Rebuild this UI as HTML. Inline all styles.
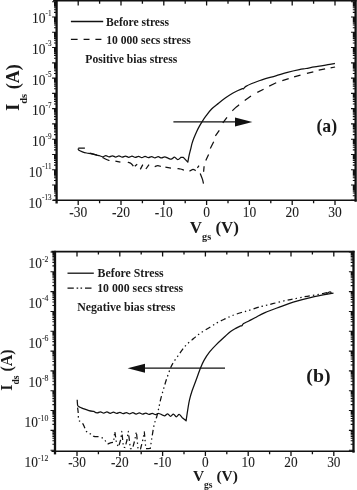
<!DOCTYPE html>
<html><head><meta charset="utf-8"><style>
html,body{margin:0;padding:0;background:#fff;width:357px;height:490px;overflow:hidden}
svg{display:block;filter:grayscale(1)}
text{font-family:"Liberation Serif",serif;fill:#1a1a1a}
.b{font-weight:bold}
.t{stroke:#333;stroke-width:0.1px}
</style></head><body>
<svg width="357" height="490" viewBox="0 0 357 490">
<rect width="357" height="490" fill="#fff"/>
<line x1="56.6" y1="0" x2="56.6" y2="203.5" stroke="#111" stroke-width="2.3"/>
<line x1="355.6" y1="0" x2="355.6" y2="201.8" stroke="#111" stroke-width="2.3"/>
<line x1="53.1" y1="0.8" x2="356.6" y2="0.8" stroke="#111" stroke-width="1.6"/>
<line x1="53.1" y1="200.3" x2="356.6" y2="200.3" stroke="#111" stroke-width="1.6"/>
<path d="M78.2,200.3 V205.1 M78.2,0.8 V5.6 M99.6,200.3 V203.3 M99.6,0.8 V3.8 M121,200.3 V205.1 M121,0.8 V5.6 M142.4,200.3 V203.3 M142.4,0.8 V3.8 M163.8,200.3 V205.1 M163.8,0.8 V5.6 M185.2,200.3 V203.3 M185.2,0.8 V3.8 M206.6,200.3 V205.1 M206.6,0.8 V5.6 M228,200.3 V203.3 M228,0.8 V3.8 M249.4,200.3 V205.1 M249.4,0.8 V5.6 M270.8,200.3 V203.3 M270.8,0.8 V3.8 M292.2,200.3 V205.1 M292.2,0.8 V5.6 M313.6,200.3 V203.3 M313.6,0.8 V3.8 M335,200.3 V205.1 M335,0.8 V5.6" stroke="#111" stroke-width="1.3" fill="none"/>
<path d="M52.1,200.3 H56.6 M355.6,200.3 H351 M54,195.7 H56.6 M355.6,195.7 H352.8 M54,193.01 H56.6 M355.6,193.01 H352.8 M54,191.1 H56.6 M355.6,191.1 H352.8 M54,189.62 H56.6 M355.6,189.62 H352.8 M54,188.41 H56.6 M355.6,188.41 H352.8 M54,187.39 H56.6 M355.6,187.39 H352.8 M54,186.51 H56.6 M355.6,186.51 H352.8 M54,185.72 H56.6 M355.6,185.72 H352.8 M52.1,185.03 H56.6 M355.6,185.03 H351 M54,180.43 H56.6 M355.6,180.43 H352.8 M54,177.74 H56.6 M355.6,177.74 H352.8 M54,175.83 H56.6 M355.6,175.83 H352.8 M54,174.35 H56.6 M355.6,174.35 H352.8 M54,173.14 H56.6 M355.6,173.14 H352.8 M54,172.12 H56.6 M355.6,172.12 H352.8 M54,171.23 H56.6 M355.6,171.23 H352.8 M54,170.45 H56.6 M355.6,170.45 H352.8 M52.1,169.75 H56.6 M355.6,169.75 H351 M54,165.15 H56.6 M355.6,165.15 H352.8 M54,162.46 H56.6 M355.6,162.46 H352.8 M54,160.55 H56.6 M355.6,160.55 H352.8 M54,159.07 H56.6 M355.6,159.07 H352.8 M54,157.86 H56.6 M355.6,157.86 H352.8 M54,156.84 H56.6 M355.6,156.84 H352.8 M54,155.96 H56.6 M355.6,155.96 H352.8 M54,155.17 H56.6 M355.6,155.17 H352.8 M52.1,154.47 H56.6 M355.6,154.47 H351 M54,149.88 H56.6 M355.6,149.88 H352.8 M54,147.19 H56.6 M355.6,147.19 H352.8 M54,145.28 H56.6 M355.6,145.28 H352.8 M54,143.8 H56.6 M355.6,143.8 H352.8 M54,142.59 H56.6 M355.6,142.59 H352.8 M54,141.57 H56.6 M355.6,141.57 H352.8 M54,140.68 H56.6 M355.6,140.68 H352.8 M54,139.9 H56.6 M355.6,139.9 H352.8 M52.1,139.2 H56.6 M355.6,139.2 H351 M54,134.6 H56.6 M355.6,134.6 H352.8 M54,131.91 H56.6 M355.6,131.91 H352.8 M54,130 H56.6 M355.6,130 H352.8 M54,128.52 H56.6 M355.6,128.52 H352.8 M54,127.31 H56.6 M355.6,127.31 H352.8 M54,126.29 H56.6 M355.6,126.29 H352.8 M54,125.41 H56.6 M355.6,125.41 H352.8 M54,124.62 H56.6 M355.6,124.62 H352.8 M52.1,123.92 H56.6 M355.6,123.92 H351 M54,119.33 H56.6 M355.6,119.33 H352.8 M54,116.64 H56.6 M355.6,116.64 H352.8 M54,114.73 H56.6 M355.6,114.73 H352.8 M54,113.25 H56.6 M355.6,113.25 H352.8 M54,112.04 H56.6 M355.6,112.04 H352.8 M54,111.02 H56.6 M355.6,111.02 H352.8 M54,110.13 H56.6 M355.6,110.13 H352.8 M54,109.35 H56.6 M355.6,109.35 H352.8 M52.1,108.65 H56.6 M355.6,108.65 H351 M54,104.05 H56.6 M355.6,104.05 H352.8 M54,101.36 H56.6 M355.6,101.36 H352.8 M54,99.45 H56.6 M355.6,99.45 H352.8 M54,97.97 H56.6 M355.6,97.97 H352.8 M54,96.76 H56.6 M355.6,96.76 H352.8 M54,95.74 H56.6 M355.6,95.74 H352.8 M54,94.86 H56.6 M355.6,94.86 H352.8 M54,94.07 H56.6 M355.6,94.07 H352.8 M52.1,93.38 H56.6 M355.6,93.38 H351 M54,88.78 H56.6 M355.6,88.78 H352.8 M54,86.09 H56.6 M355.6,86.09 H352.8 M54,84.18 H56.6 M355.6,84.18 H352.8 M54,82.7 H56.6 M355.6,82.7 H352.8 M54,81.49 H56.6 M355.6,81.49 H352.8 M54,80.47 H56.6 M355.6,80.47 H352.8 M54,79.58 H56.6 M355.6,79.58 H352.8 M54,78.8 H56.6 M355.6,78.8 H352.8 M52.1,78.1 H56.6 M355.6,78.1 H351 M54,73.5 H56.6 M355.6,73.5 H352.8 M54,70.81 H56.6 M355.6,70.81 H352.8 M54,68.9 H56.6 M355.6,68.9 H352.8 M54,67.42 H56.6 M355.6,67.42 H352.8 M54,66.21 H56.6 M355.6,66.21 H352.8 M54,65.19 H56.6 M355.6,65.19 H352.8 M54,64.31 H56.6 M355.6,64.31 H352.8 M54,63.52 H56.6 M355.6,63.52 H352.8 M52.1,62.83 H56.6 M355.6,62.83 H351 M54,58.23 H56.6 M355.6,58.23 H352.8 M54,55.54 H56.6 M355.6,55.54 H352.8 M54,53.63 H56.6 M355.6,53.63 H352.8 M54,52.15 H56.6 M355.6,52.15 H352.8 M54,50.94 H56.6 M355.6,50.94 H352.8 M54,49.92 H56.6 M355.6,49.92 H352.8 M54,49.03 H56.6 M355.6,49.03 H352.8 M54,48.25 H56.6 M355.6,48.25 H352.8 M52.1,47.55 H56.6 M355.6,47.55 H351 M54,42.95 H56.6 M355.6,42.95 H352.8 M54,40.26 H56.6 M355.6,40.26 H352.8 M54,38.35 H56.6 M355.6,38.35 H352.8 M54,36.87 H56.6 M355.6,36.87 H352.8 M54,35.66 H56.6 M355.6,35.66 H352.8 M54,34.64 H56.6 M355.6,34.64 H352.8 M54,33.76 H56.6 M355.6,33.76 H352.8 M54,32.97 H56.6 M355.6,32.97 H352.8 M52.1,32.27 H56.6 M355.6,32.27 H351 M54,27.68 H56.6 M355.6,27.68 H352.8 M54,24.99 H56.6 M355.6,24.99 H352.8 M54,23.08 H56.6 M355.6,23.08 H352.8 M54,21.6 H56.6 M355.6,21.6 H352.8 M54,20.39 H56.6 M355.6,20.39 H352.8 M54,19.37 H56.6 M355.6,19.37 H352.8 M54,18.48 H56.6 M355.6,18.48 H352.8 M54,17.7 H56.6 M355.6,17.7 H352.8 M52.1,17 H56.6 M355.6,17 H351 M54,12.4 H56.6 M355.6,12.4 H352.8 M54,9.71 H56.6 M355.6,9.71 H352.8 M54,7.8 H56.6 M355.6,7.8 H352.8 M54,6.32 H56.6 M355.6,6.32 H352.8 M54,5.11 H56.6 M355.6,5.11 H352.8 M54,4.09 H56.6 M355.6,4.09 H352.8 M54,3.21 H56.6 M355.6,3.21 H352.8 M54,2.42 H56.6 M355.6,2.42 H352.8 M52.1,1.72 H56.6 M355.6,1.72 H351" stroke="#111" stroke-width="1.1" fill="none"/>
<line x1="55" y1="250.8" x2="55" y2="454.4" stroke="#111" stroke-width="2.3"/>
<line x1="353.5" y1="250.8" x2="353.5" y2="452.7" stroke="#111" stroke-width="2.3"/>
<line x1="51.5" y1="251.6" x2="354.5" y2="251.6" stroke="#111" stroke-width="1.6"/>
<line x1="51.5" y1="451.2" x2="354.5" y2="451.2" stroke="#111" stroke-width="1.6"/>
<path d="M77,451.2 V456 M77,251.6 V256.4 M98.4,451.2 V454.2 M98.4,251.6 V254.6 M119.8,451.2 V456 M119.8,251.6 V256.4 M141.2,451.2 V454.2 M141.2,251.6 V254.6 M162.6,451.2 V456 M162.6,251.6 V256.4 M184,451.2 V454.2 M184,251.6 V254.6 M205.4,451.2 V456 M205.4,251.6 V256.4 M226.8,451.2 V454.2 M226.8,251.6 V254.6 M248.2,451.2 V456 M248.2,251.6 V256.4 M269.6,451.2 V454.2 M269.6,251.6 V254.6 M291,451.2 V456 M291,251.6 V256.4 M312.4,451.2 V454.2 M312.4,251.6 V254.6 M333.8,451.2 V456 M333.8,251.6 V256.4" stroke="#111" stroke-width="1.3" fill="none"/>
<path d="M50.5,450.2 H55 M353.5,450.2 H348.9 M52.4,444.23 H55 M353.5,444.23 H350.7 M52.4,440.74 H55 M353.5,440.74 H350.7 M52.4,438.27 H55 M353.5,438.27 H350.7 M52.4,436.35 H55 M353.5,436.35 H350.7 M52.4,434.78 H55 M353.5,434.78 H350.7 M52.4,433.45 H55 M353.5,433.45 H350.7 M52.4,432.3 H55 M353.5,432.3 H350.7 M52.4,431.29 H55 M353.5,431.29 H350.7 M50.5,430.38 H55 M353.5,430.38 H348.9 M52.4,424.41 H55 M353.5,424.41 H350.7 M52.4,420.92 H55 M353.5,420.92 H350.7 M52.4,418.45 H55 M353.5,418.45 H350.7 M52.4,416.53 H55 M353.5,416.53 H350.7 M52.4,414.96 H55 M353.5,414.96 H350.7 M52.4,413.63 H55 M353.5,413.63 H350.7 M52.4,412.48 H55 M353.5,412.48 H350.7 M52.4,411.47 H55 M353.5,411.47 H350.7 M50.5,410.56 H55 M353.5,410.56 H348.9 M52.4,404.59 H55 M353.5,404.59 H350.7 M52.4,401.1 H55 M353.5,401.1 H350.7 M52.4,398.63 H55 M353.5,398.63 H350.7 M52.4,396.71 H55 M353.5,396.71 H350.7 M52.4,395.14 H55 M353.5,395.14 H350.7 M52.4,393.81 H55 M353.5,393.81 H350.7 M52.4,392.66 H55 M353.5,392.66 H350.7 M52.4,391.65 H55 M353.5,391.65 H350.7 M50.5,390.74 H55 M353.5,390.74 H348.9 M52.4,384.77 H55 M353.5,384.77 H350.7 M52.4,381.28 H55 M353.5,381.28 H350.7 M52.4,378.81 H55 M353.5,378.81 H350.7 M52.4,376.89 H55 M353.5,376.89 H350.7 M52.4,375.32 H55 M353.5,375.32 H350.7 M52.4,373.99 H55 M353.5,373.99 H350.7 M52.4,372.84 H55 M353.5,372.84 H350.7 M52.4,371.83 H55 M353.5,371.83 H350.7 M50.5,370.92 H55 M353.5,370.92 H348.9 M52.4,364.95 H55 M353.5,364.95 H350.7 M52.4,361.46 H55 M353.5,361.46 H350.7 M52.4,358.99 H55 M353.5,358.99 H350.7 M52.4,357.07 H55 M353.5,357.07 H350.7 M52.4,355.5 H55 M353.5,355.5 H350.7 M52.4,354.17 H55 M353.5,354.17 H350.7 M52.4,353.02 H55 M353.5,353.02 H350.7 M52.4,352.01 H55 M353.5,352.01 H350.7 M50.5,351.1 H55 M353.5,351.1 H348.9 M52.4,345.13 H55 M353.5,345.13 H350.7 M52.4,341.64 H55 M353.5,341.64 H350.7 M52.4,339.17 H55 M353.5,339.17 H350.7 M52.4,337.25 H55 M353.5,337.25 H350.7 M52.4,335.68 H55 M353.5,335.68 H350.7 M52.4,334.35 H55 M353.5,334.35 H350.7 M52.4,333.2 H55 M353.5,333.2 H350.7 M52.4,332.19 H55 M353.5,332.19 H350.7 M50.5,331.28 H55 M353.5,331.28 H348.9 M52.4,325.31 H55 M353.5,325.31 H350.7 M52.4,321.82 H55 M353.5,321.82 H350.7 M52.4,319.35 H55 M353.5,319.35 H350.7 M52.4,317.43 H55 M353.5,317.43 H350.7 M52.4,315.86 H55 M353.5,315.86 H350.7 M52.4,314.53 H55 M353.5,314.53 H350.7 M52.4,313.38 H55 M353.5,313.38 H350.7 M52.4,312.37 H55 M353.5,312.37 H350.7 M50.5,311.46 H55 M353.5,311.46 H348.9 M52.4,305.49 H55 M353.5,305.49 H350.7 M52.4,302 H55 M353.5,302 H350.7 M52.4,299.53 H55 M353.5,299.53 H350.7 M52.4,297.61 H55 M353.5,297.61 H350.7 M52.4,296.04 H55 M353.5,296.04 H350.7 M52.4,294.71 H55 M353.5,294.71 H350.7 M52.4,293.56 H55 M353.5,293.56 H350.7 M52.4,292.55 H55 M353.5,292.55 H350.7 M50.5,291.64 H55 M353.5,291.64 H348.9 M52.4,285.67 H55 M353.5,285.67 H350.7 M52.4,282.18 H55 M353.5,282.18 H350.7 M52.4,279.71 H55 M353.5,279.71 H350.7 M52.4,277.79 H55 M353.5,277.79 H350.7 M52.4,276.22 H55 M353.5,276.22 H350.7 M52.4,274.89 H55 M353.5,274.89 H350.7 M52.4,273.74 H55 M353.5,273.74 H350.7 M52.4,272.73 H55 M353.5,272.73 H350.7 M50.5,271.82 H55 M353.5,271.82 H348.9 M52.4,265.85 H55 M353.5,265.85 H350.7 M52.4,262.36 H55 M353.5,262.36 H350.7 M52.4,259.89 H55 M353.5,259.89 H350.7 M52.4,257.97 H55 M353.5,257.97 H350.7 M52.4,256.4 H55 M353.5,256.4 H350.7 M52.4,255.07 H55 M353.5,255.07 H350.7 M52.4,253.92 H55 M353.5,253.92 H350.7 M52.4,252.91 H55 M353.5,252.91 H350.7 M50.5,252 H55 M353.5,252 H348.9" stroke="#111" stroke-width="1.1" fill="none"/>
<text class="t" transform="translate(51.6,23) scale(1,1.12)" font-size="13.5" text-anchor="end">10<tspan dy="-6.52" font-size="7.2">-1</tspan></text>
<text class="t" transform="translate(51.6,53.75) scale(1,1.12)" font-size="13.5" text-anchor="end">10<tspan dy="-6.52" font-size="7.2">-3</tspan></text>
<text class="t" transform="translate(51.6,84.5) scale(1,1.12)" font-size="13.5" text-anchor="end">10<tspan dy="-6.52" font-size="7.2">-5</tspan></text>
<text class="t" transform="translate(51.6,115.25) scale(1,1.12)" font-size="13.5" text-anchor="end">10<tspan dy="-6.52" font-size="7.2">-7</tspan></text>
<text class="t" transform="translate(51.6,146) scale(1,1.12)" font-size="13.5" text-anchor="end">10<tspan dy="-6.52" font-size="7.2">-9</tspan></text>
<text class="t" transform="translate(51.6,176.75) scale(1,1.12)" font-size="13.5" text-anchor="end">10<tspan dy="-6.52" font-size="7.2">-11</tspan></text>
<text class="t" transform="translate(51.6,207.5) scale(1,1.12)" font-size="13.5" text-anchor="end">10<tspan dy="-6.52" font-size="7.2">-13</tspan></text>
<text class="t" transform="translate(48.4,267.9) scale(1,1.12)" font-size="13.4" text-anchor="end">10<tspan dy="-5.71" font-size="7.8">-2</tspan></text>
<text class="t" transform="translate(48.4,307.7) scale(1,1.12)" font-size="13.4" text-anchor="end">10<tspan dy="-5.71" font-size="7.8">-4</tspan></text>
<text class="t" transform="translate(48.4,347.5) scale(1,1.12)" font-size="13.4" text-anchor="end">10<tspan dy="-5.71" font-size="7.8">-6</tspan></text>
<text class="t" transform="translate(48.4,387.3) scale(1,1.12)" font-size="13.4" text-anchor="end">10<tspan dy="-5.71" font-size="7.8">-8</tspan></text>
<text class="t" transform="translate(48.4,427.1) scale(1,1.12)" font-size="13.4" text-anchor="end">10<tspan dy="-5.71" font-size="7.8">-10</tspan></text>
<text class="t" transform="translate(48.4,466.9) scale(1,1.12)" font-size="13.4" text-anchor="end">10<tspan dy="-5.71" font-size="7.8">-12</tspan></text>
<text class="t" transform="translate(78.2,217.2) scale(1,1.12)" font-size="13.5" text-anchor="middle">-30</text>
<text class="t" transform="translate(121,217.2) scale(1,1.12)" font-size="13.5" text-anchor="middle">-20</text>
<text class="t" transform="translate(163.8,217.2) scale(1,1.12)" font-size="13.5" text-anchor="middle">-10</text>
<text class="t" transform="translate(206.6,217.2) scale(1,1.12)" font-size="13.5" text-anchor="middle">0</text>
<text class="t" transform="translate(249.4,217.2) scale(1,1.12)" font-size="13.5" text-anchor="middle">10</text>
<text class="t" transform="translate(292.2,217.2) scale(1,1.12)" font-size="13.5" text-anchor="middle">20</text>
<text class="t" transform="translate(335,217.2) scale(1,1.12)" font-size="13.5" text-anchor="middle">30</text>
<text class="t" transform="translate(77,467.4) scale(1,1.12)" font-size="13.3" text-anchor="middle">-30</text>
<text class="t" transform="translate(119.8,467.4) scale(1,1.12)" font-size="13.3" text-anchor="middle">-20</text>
<text class="t" transform="translate(162.6,467.4) scale(1,1.12)" font-size="13.3" text-anchor="middle">-10</text>
<text class="t" transform="translate(205.4,467.4) scale(1,1.12)" font-size="13.3" text-anchor="middle">0</text>
<text class="t" transform="translate(248.2,467.4) scale(1,1.12)" font-size="13.3" text-anchor="middle">10</text>
<text class="t" transform="translate(291,467.4) scale(1,1.12)" font-size="13.3" text-anchor="middle">20</text>
<text class="t" transform="translate(333.8,467.4) scale(1,1.12)" font-size="13.3" text-anchor="middle">30</text>
<text class="b" x="189.8" y="232.8" font-size="17">V<tspan font-size="10.2" dy="7.6">gs</tspan><tspan dy="-7.6"> (V)</tspan></text>
<text class="b" x="192.9" y="481.3" font-size="15.5">V<tspan font-size="9.5" dy="7">gs</tspan><tspan dy="-7"> (V)</tspan></text>
<text class="b" transform="translate(18.6,110.8) rotate(-90)" font-size="18">I<tspan font-size="10.5" dy="8">ds</tspan><tspan dy="-8"> (A)</tspan></text>
<text class="b" transform="translate(11.6,390.8) rotate(-90)" font-size="16">I<tspan font-size="9.5" dy="7">ds</tspan><tspan dy="-7"> (A)</tspan></text>
<line x1="70.9" y1="21.5" x2="103.2" y2="21.5" stroke="#111" stroke-width="1.3"/>
<path d="M70.9,39.4 H77.6 M83.6,39.4 H89.5 M95.4,39.4 H101.4" stroke="#111" stroke-width="1.3"/>
<text class="b" x="106" y="26.0" font-size="11.6">Before stress</text>
<text class="b" x="106.2" y="43.7" font-size="11.6">10 000 secs stress</text>
<text class="b" x="85.3" y="62.6" font-size="11.6">Positive bias stress</text>
<line x1="67.5" y1="273.2" x2="93.8" y2="273.2" stroke="#111" stroke-width="1.3"/>
<path d="M67.5,288.1 H73.8 M76.6,288.1 H78.2 M80.5,288.1 H82.1 M85,288.1 H91.5" stroke="#111" stroke-width="1.3"/>
<text class="b" x="97.6" y="277.1" font-size="11.8">Before Stress</text>
<text class="b" x="97.2" y="292.2" font-size="11.8">10 000 secs stress</text>
<text class="b" x="77.2" y="311.3" font-size="11.8">Negative bias stress</text>
<text class="b" x="316.4" y="132.0" font-size="17.8">(a)</text>
<text class="b" x="306.3" y="381.6" font-size="19.8">(b)</text>
<line x1="173.4" y1="121.9" x2="237" y2="121.9" stroke="#111" stroke-width="1.3"/>
<path d="M235,117.5 L252.4,121.9 L235,126.4 Z" fill="#111"/>
<line x1="143" y1="368.2" x2="225" y2="368.2" stroke="#111" stroke-width="1.3"/>
<path d="M145,363.8 L127.6,368.2 L145,372.7 Z" fill="#111"/>
<path d="M78.3,148.4 C78.35,148.68 77.92,149.53 78.6,150.1 C79.28,150.67 81.07,151.32 82.4,151.8 C83.73,152.28 85.07,152.67 86.6,153 C88.13,153.33 89.92,153.45 91.6,153.8 C93.28,154.15 95.42,154.8 96.7,155.1 C97.98,155.4 98.87,155.52 99.3,155.6  C99.85,155.71 101.48,156.74 102.57,156.77 C103.66,156.79 104.75,155.61 105.84,155.63 C106.93,155.66 108.02,156.88 109.11,156.9 C110.2,156.92 111.3,155.74 112.39,155.77 C113.48,155.79 114.57,157.01 115.66,157.03 C116.75,157.06 117.84,155.88 118.93,155.9 C120.02,155.92 121.11,157.14 122.2,157.17 C123.29,157.19 124.38,156.01 125.47,156.03 C126.56,156.06 127.65,157.28 128.74,157.3 C129.83,157.32 130.92,156.14 132.01,156.17 C133.1,156.19 134.2,157.41 135.29,157.43 C136.38,157.46 137.47,156.28 138.56,156.3 C139.65,156.32 140.74,157.54 141.83,157.57 C142.92,157.59 144.01,156.41 145.1,156.43 C146.19,156.46 147.28,157.68 148.37,157.7 C149.46,157.72 150.55,156.54 151.64,156.57 C152.73,156.59 153.82,157.81 154.91,157.83 C156,157.86 157.1,156.68 158.19,156.7 C159.28,156.72 160.37,157.94 161.46,157.97 C162.55,157.99 163.64,156.81 164.73,156.83 C165.82,156.86 166.91,157.7 168,158.1 C169.09,158.5 170.17,159.37 171.25,159.21 C172.33,159.06 173.42,157.1 174.5,157.18 C175.58,157.25 176.67,159.61 177.75,159.64 C178.83,159.67 180.46,157.73 181,157.35 L183.3,157.3 L187.8,162.2  C188.03,160.98 188.73,157.03 189.2,154.9 C189.67,152.77 190.15,151.23 190.6,149.4 C191.05,147.57 191.37,145.75 191.9,143.9 C192.43,142.05 193.03,140.3 193.8,138.3 C194.57,136.3 195.58,133.88 196.5,131.9 C197.42,129.92 198.38,128.08 199.3,126.4 C200.22,124.72 200.88,123.55 202,121.8 C203.12,120.05 204.4,118.03 206,115.9 C207.6,113.77 209.5,111.12 211.6,109 C213.7,106.88 216.27,105.07 218.6,103.2 C220.93,101.33 223.27,99.47 225.6,97.8 C227.93,96.13 230.53,94.42 232.6,93.2 C234.67,91.98 236.37,91.27 238,90.5 C239.63,89.73 241.47,88.9 242.4,88.6 C243.33,88.3 243.02,89.07 243.6,88.7 C244.18,88.33 244.53,87.27 245.9,86.4 C247.27,85.53 249.7,84.4 251.8,83.5 C253.9,82.6 256.47,81.73 258.5,81 C260.53,80.27 261.12,79.97 264,79.1 C266.88,78.23 271.88,76.93 275.8,75.8 C279.72,74.67 283.58,73.33 287.5,72.3 C291.42,71.27 296.22,70.23 299.3,69.6 C302.38,68.97 303.48,68.95 306,68.5 C308.52,68.05 311.6,67.38 314.4,66.9 C317.2,66.42 320,66.05 322.8,65.6 C325.6,65.15 329.18,64.57 331.2,64.2 C333.22,63.83 334.28,63.53 334.9,63.4" stroke="#111" stroke-width="1.25" fill="none" stroke-linejoin="round" stroke-linecap="butt" />
<path d="M78.3,148 L84.9,148 M90,153.2 L97,155.2 M102.6,157.4 C103.17,157.72 104.85,158.78 106,159.3 C107.15,159.82 108.92,160.3 109.5,160.5 M115.4,161.1 L120.4,162.2 M127.8,162.3 C128.33,162.48 130.07,162.75 131,163.4 C131.93,164.05 133,165.73 133.4,166.2 M134.8,166.3 L137.2,164.3 M140.3,169.4 L142.8,164.6 M145.9,169 L149,164.6 M154.7,166.6 C155.22,166.45 156.77,165.73 157.8,165.7 C158.83,165.67 160.38,166.28 160.9,166.4 M165.4,167.1 L171,168.1 M177.5,168.6 C178,168.67 179.43,168.73 180.5,169 C181.57,169.27 183.33,170 183.9,170.2 M189.5,171.3 C190.07,170.97 191.87,169.4 192.9,169.3 C193.93,169.2 195.23,170.47 195.7,170.7 M197.4,167.9 L199,165.7 M200.2,173.5 C200.57,174.43 201.85,177.42 202.4,179.1 C202.95,180.78 203.32,182.85 203.5,183.6 M203.6,171.8 L204.1,166.2 M205.8,160.6 L208.6,154.5 M210.3,148.5 L213.7,141.8 M215.4,135.9 L219.3,130.4 M222.8,122.9 L227,117.3 M232.3,110.8 C232.85,110.27 234.47,108.6 235.6,107.6 C236.73,106.6 238.52,105.27 239.1,104.8 M244.7,100.6 L251,95.9 M257.3,92.4 L263.6,89.3 M269.2,86.1 L276.2,82.8 M282.3,80.6 L288.7,78.6 M294.1,76.9 L300.5,75.1 M306.9,73.3 L313.3,71.9 M318.7,70.2 L325.1,68.9 M330.6,67.9 L335.1,67" stroke="#111" stroke-width="1.25" fill="none" stroke-linejoin="round" stroke-linecap="butt" />
<path d="M77.2,399.8 C77.23,400.33 77.3,402.02 77.4,403 C77.5,403.98 77.37,404.98 77.8,405.7 C78.23,406.42 79.2,406.87 80,407.3 C80.8,407.73 81.12,407.75 82.6,408.3 C84.08,408.85 87,410.08 88.9,410.6 C90.8,411.12 93.15,411.27 94,411.4  C94.54,411.82 96.16,412.86 97.24,412.9 C98.32,412.93 99.4,411.76 100.48,411.79 C101.56,411.82 102.63,413.05 103.71,413.09 C104.79,413.12 105.87,411.95 106.95,411.98 C108.03,412.01 109.11,413.24 110.19,413.28 C111.27,413.31 112.35,412.14 113.43,412.17 C114.51,412.2 115.59,413.43 116.67,413.47 C117.75,413.5 118.83,412.33 119.9,412.36 C120.98,412.39 122.06,413.63 123.14,413.66 C124.22,413.69 125.3,412.52 126.38,412.55 C127.46,412.58 128.54,413.82 129.62,413.85 C130.7,413.88 131.78,412.71 132.86,412.74 C133.94,412.77 135.02,414.01 136.1,414.04 C137.17,414.07 138.25,412.9 139.33,412.93 C140.41,412.97 141.49,414.2 142.57,414.23 C143.65,414.26 144.73,413.09 145.81,413.12 C146.89,413.16 147.97,414.39 149.05,414.42 C150.13,414.45 151.21,413.28 152.29,413.31 C153.37,413.35 154.44,414.58 155.52,414.61 C156.6,414.64 157.68,413.47 158.76,413.5 C159.84,413.54 160.98,414.42 162,414.8 C163.02,415.18 163.9,415.94 164.86,415.77 C165.81,415.61 166.76,413.72 167.71,413.81 C168.67,413.9 169.62,416.26 170.57,416.31 C171.52,416.37 172.48,414.04 173.43,414.13 C174.38,414.22 175.33,416.8 176.29,416.86 C177.24,416.91 178.19,414.35 179.14,414.44 C180.1,414.53 181.52,416.91 182,417.4 L186.1,420.8  C186.38,418.88 187.23,412.8 187.8,409.3 C188.37,405.8 188.78,402.88 189.5,399.8 C190.22,396.72 190.97,394.18 192.1,390.8 C193.23,387.42 194.93,383.22 196.3,379.5 C197.67,375.78 199.02,371.68 200.3,368.5 C201.58,365.32 202.45,363.17 204,360.4 C205.55,357.63 207.55,354.53 209.6,351.9 C211.65,349.27 213.88,347.03 216.3,344.6 C218.72,342.17 221.72,339.5 224.1,337.3 C226.48,335.1 228.58,332.93 230.6,331.4 C232.62,329.87 234.52,329.02 236.2,328.1 C237.88,327.18 239.75,326.28 240.7,325.9 C241.65,325.52 241.42,326.18 241.9,325.8 C242.38,325.42 242.45,324.4 243.6,323.6 C244.75,322.8 246.9,321.97 248.8,321 C250.7,320.03 252.3,319.2 255,317.8 C257.7,316.4 260.83,314.42 265,312.6 C269.17,310.78 275.3,308.63 280,306.9 C284.7,305.17 287.97,303.78 293.2,302.2 C298.43,300.62 304.68,298.92 311.4,297.4 C318.12,295.88 329.82,293.82 333.5,293.1" stroke="#111" stroke-width="1.25" fill="none" stroke-linejoin="round" stroke-linecap="butt" />
<path d="M77.6,407.6 C77.7,408.45 78.03,410.73 78.2,412.7 C78.37,414.67 78.28,417.93 78.6,419.4 C78.92,420.87 79.43,420.83 80.1,421.5 C80.77,422.17 81.87,422.45 82.6,423.4 C83.33,424.35 83.87,425.87 84.5,427.2 C85.13,428.53 85.67,430.35 86.4,431.4 C87.13,432.45 87.95,433.02 88.9,433.5 C89.85,433.98 91.25,433.82 92.1,434.3 C92.95,434.78 92.85,435.98 94,436.4 C95.15,436.82 97.43,436.45 99,436.8 C100.57,437.15 102.25,437.68 103.4,438.5 C104.55,439.32 105.23,440.82 105.9,441.7 C106.57,442.58 106.65,443.6 107.4,443.8 C108.15,444 109.38,443.15 110.4,442.9 C111.42,442.65 112.98,442.4 113.5,442.3 L114.8,431.5 L116.5,443 L118.5,447 L120.6,440 L121.8,431.3 L123.4,447.2 L125,447.5 L127,440 L128.3,431.3 L130.4,448.6 L132.5,448.8 L134.8,440 L136.4,431.8 L138.1,449.3 L140.5,449 L142.8,440 L144.3,431.8 L145.8,448.6 L148,448.6 L150.3,448.4  C150.58,446.5 151.35,440.98 152,437 C152.65,433.02 153.4,427.92 154.2,424.5 C155,421.08 156.05,419.18 156.8,416.5 C157.55,413.82 158.05,411.28 158.7,408.4 C159.35,405.52 159.88,402.47 160.7,399.2 C161.52,395.93 162.62,392.17 163.6,388.8 C164.58,385.43 165.45,382.45 166.6,379 C167.75,375.55 169.37,370.85 170.5,368.1 C171.63,365.35 172.17,364.52 173.4,362.5 C174.63,360.48 176.4,358.15 177.9,356 C179.4,353.85 180.9,351.55 182.4,349.6 C183.9,347.65 185.03,346.13 186.9,344.3 C188.77,342.47 191.42,340.42 193.6,338.6 C195.78,336.78 197.27,335.3 200,333.4 C202.73,331.5 207.03,329.03 210,327.2 C212.97,325.37 215.18,323.83 217.8,322.4 C220.42,320.97 223.25,319.75 225.7,318.6 C228.15,317.45 229.88,316.52 232.5,315.5 C235.12,314.48 238.78,313.32 241.4,312.5 C244.02,311.68 245.58,311.42 248.2,310.6 C250.82,309.78 254.65,308.35 257.1,307.6 C259.55,306.85 260.3,306.75 262.9,306.1 C265.5,305.45 268.87,304.65 272.7,303.7 C276.53,302.75 282.48,301.18 285.9,300.4 C289.32,299.62 290.17,299.6 293.2,299 C296.23,298.4 301.07,297.38 304.1,296.8 C307.13,296.22 308.82,295.93 311.4,295.5 C313.98,295.07 317.17,294.63 319.6,294.2 C322.03,293.77 324.17,293.2 326,292.9 C327.83,292.6 329.83,292.48 330.6,292.4" stroke="#111" stroke-width="1.25" fill="none" stroke-linejoin="round" stroke-linecap="butt" stroke-dasharray="5.4,3.1,1.4,3.1,1.4,3.1"/>
<path d="M326.5,294 C329,291 331.5,291.3 331,293.2" stroke="#111" stroke-width="1.25" fill="none" stroke-linejoin="round" stroke-linecap="butt" />
</svg>
</body></html>
